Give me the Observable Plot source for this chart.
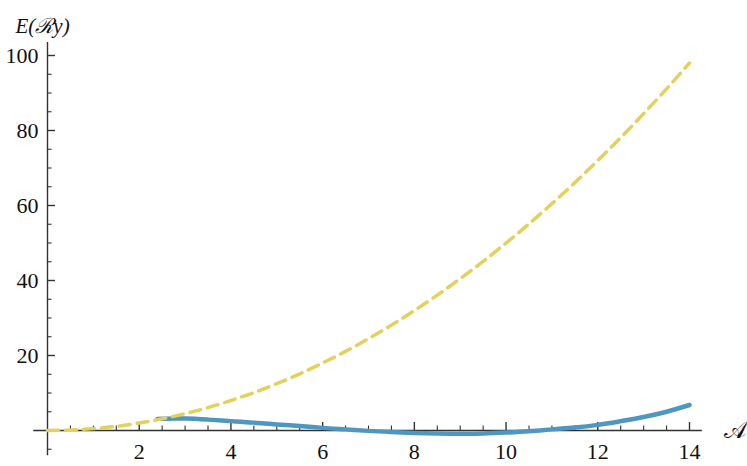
<!DOCTYPE html>
<html>
<head>
<meta charset="utf-8">
<script src="https://cdn.jsdelivr.net/npm/d3@7"></script>
<script src="https://cdn.jsdelivr.net/npm/@observablehq/plot@0.6"></script>
<style>
  html, body { margin: 0; padding: 0; background: #fff; }
  svg text { font-family: 'Liberation Serif', 'DejaVu Serif', serif; }
</style>
</head>
<body>
<div id="chart"></div>
<script>
// ---- data ----
const yellowX = [0, 0.5, 1, 1.5, 2, 2.5, 3, 3.5, 4, 4.5, 5, 5.5, 6, 6.5, 7, 7.5, 8, 8.5, 9, 9.5, 10, 10.5, 11, 11.5, 12, 12.5, 13, 13.5, 14];
const yellowY = [0, 0.12, 0.5, 1.1, 2, 3.1, 4.5, 6.1, 8, 10.1, 12.5, 15.1, 18, 21.1, 24.5, 28.1, 32, 36.1, 40.5, 45.1, 50, 55.1, 60.5, 66.1, 72, 78.1, 84.5, 91.1, 98];

const blueX = [2.4, 3, 3.5, 4, 4.5, 5, 5.5, 6, 6.5, 7, 7.5, 8, 8.5, 9, 9.5, 10, 10.5, 11, 11.5, 12, 12.5, 13, 13.5, 14];
const blueY = [3.1, 3.2, 2.9, 2.5, 2.1, 1.6, 1.2, 0.7, 0.3, -0.1, -0.4, -0.65, -0.8, -0.85, -0.8, -0.55, -0.2, 0.3, 0.8, 1.5, 2.5, 3.6, 5.0, 6.8];

const xMajor = [2, 4, 6, 8, 10, 12, 14];
const xMinor = [0.5, 1, 1.5, 2.5, 3, 3.5, 4.5, 5, 5.5, 6.5, 7, 7.5, 8.5, 9, 9.5, 10.5, 11, 11.5, 12.5, 13, 13.5];
const yMajor = [20, 40, 60, 80, 100];
const yMinor = [-5, 5, 10, 15, 25, 30, 35, 45, 50, 55, 65, 70, 75, 85, 90, 95];
const xExtent = [-0.3, 14.28];
const yExtent = [-6.7, 103.5];
const yAxisLabel = "E(\u211By)";
const xAxisLabel = "\uD835\uDC9C";

const yellowData = yellowX.map((x, i) => ({x, y: yellowY[i]}));
const blueData = blueX.map((x, i) => ({x, y: blueY[i]}));

const axisColor = "#333";
const font = "'Liberation Serif', 'DejaVu Serif', serif";

const chart = Plot.plot({
  width: 747,
  height: 466,
  marginTop: 0, marginRight: 0, marginBottom: 0, marginLeft: 0,
  style: {fontFamily: font, background: "#fff", overflow: "visible"},
  x: {domain: [0, 14], range: [47, 689], axis: null},
  y: {domain: [0, 100], range: [430, 55], axis: null},
  marks: [
    // axes lines
    Plot.ruleY([0], {x1: xExtent[0], x2: xExtent[1], stroke: axisColor, strokeWidth: 1.4}),
    Plot.ruleX([0], {y1: yExtent[0], y2: yExtent[1], stroke: axisColor, strokeWidth: 1.4}),
    // x ticks
    Plot.ruleX(xMajor, {x: d => d, y1: 0, y2: 0, insetTop: -8, stroke: axisColor, strokeWidth: 1.4}),
    Plot.ruleX(xMinor, {x: d => d, y1: 0, y2: 0, insetTop: -4.5, stroke: axisColor, strokeWidth: 1.1}),
    // y ticks
    Plot.ruleY(yMajor, {y: d => d, x1: 0, x2: 0, insetRight: -8, stroke: axisColor, strokeWidth: 1.4}),
    Plot.ruleY(yMinor, {y: d => d, x1: 0, x2: 0, insetRight: -4.5, stroke: axisColor, strokeWidth: 1.1}),
    // tick labels
    Plot.text(xMajor, {x: d => d, y: 0, dy: 21, text: d => String(d), fontSize: 22, fontFamily: font, fill: "#111"}),
    Plot.text(yMajor, {x: 0, y: d => d, dx: -9, textAnchor: "end", text: d => String(d), fontSize: 22, fontFamily: font, fill: "#111"}),
    // curves
    Plot.line(blueData, {x: "x", y: "y", curve: "natural", stroke: "#4f96c0", strokeWidth: 4.5}),
    Plot.line(yellowData, {x: "x", y: "y", curve: "natural", stroke: "#e3d15c", strokeWidth: 3.5, strokeDasharray: "11,7"}),
    // axis labels
    Plot.text([yAxisLabel], {frameAnchor: "top-left", dx: 15, dy: 18, textAnchor: "start", text: d => d, fontSize: 21, fontFamily: font, fontStyle: "italic", fill: "#111"}),
    Plot.text([xAxisLabel], {x: xExtent[1], y: 0, dx: 22, textAnchor: "start", text: d => d, fontSize: 24, fill: "#111"})
  ]
});
document.getElementById("chart").appendChild(chart);
</script>
</body>
</html>
